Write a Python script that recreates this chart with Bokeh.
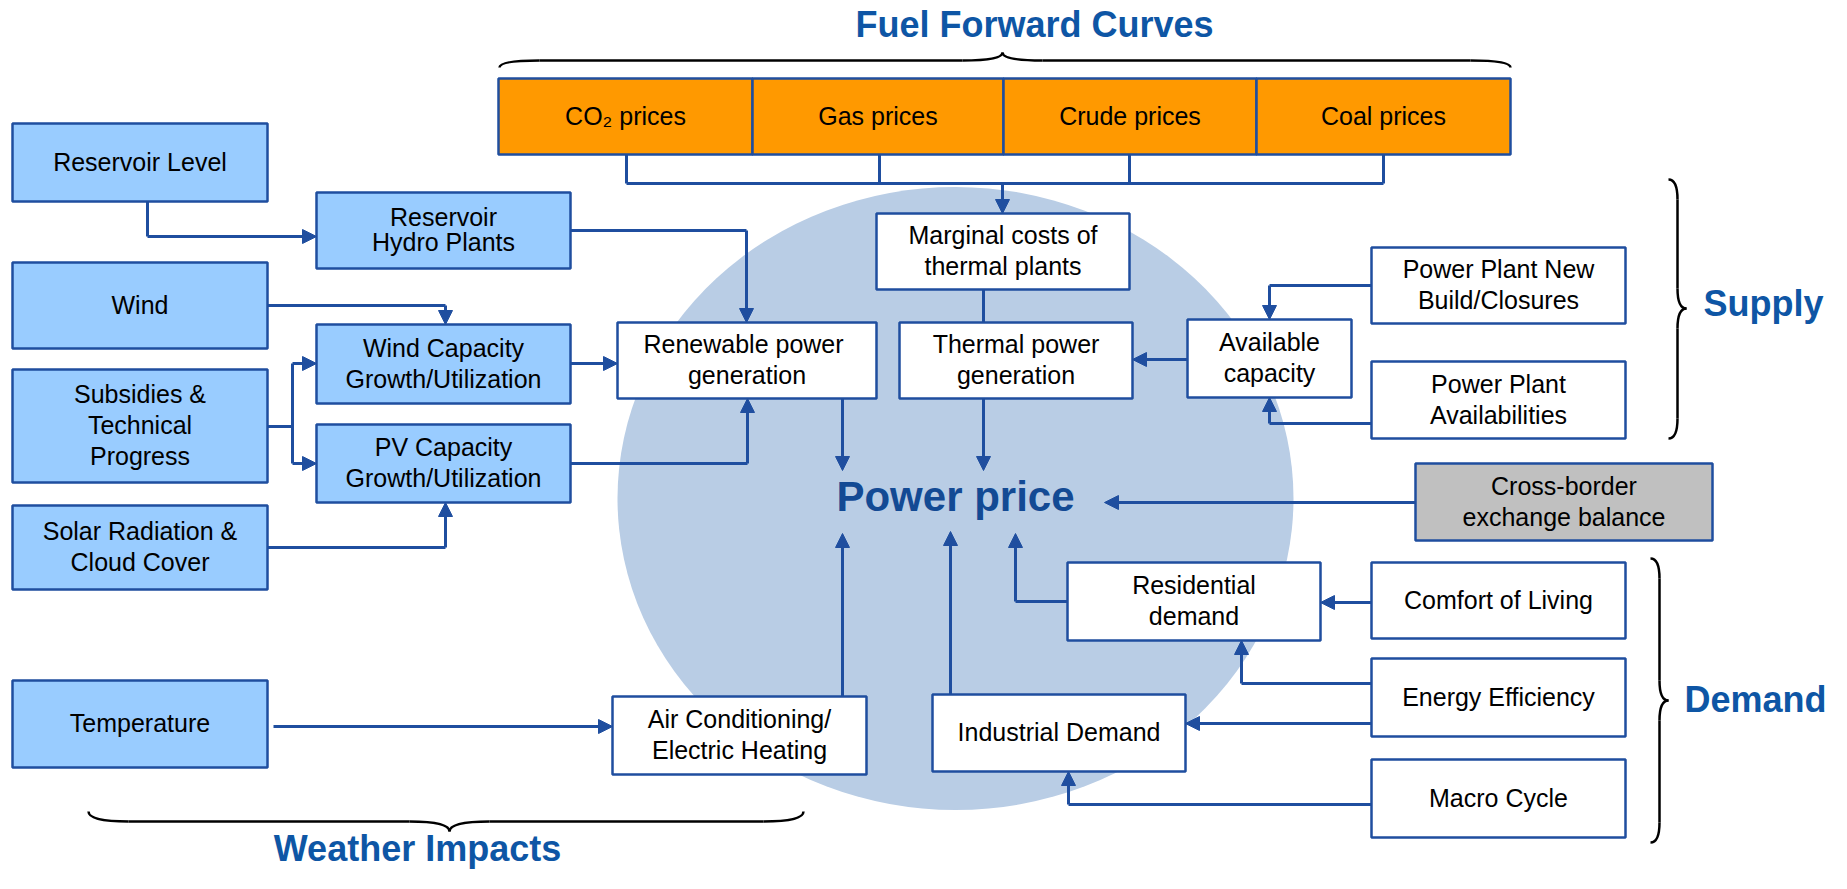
from bokeh.plotting import figure
from bokeh.models import Range1d, Arrow, NormalHead
from bokeh.core.properties import value
from bokeh.embed import file_html
from bokeh.resources import INLINE

# ---------------- data ----------------
box_labels = [
    "Reservoir Level", "Wind", "Subsidies &\nTechnical\nProgress",
    "Solar Radiation &\nCloud Cover", "Temperature",
    "Reservoir\nHydro Plants", "Wind Capacity\nGrowth/Utilization",
    "PV Capacity\nGrowth/Utilization",
    "Renewable  power\ngeneration", "Marginal costs of\nthermal plants",
    "Thermal power\ngeneration", "Available\ncapacity",
    "Power Plant New\nBuild/Closures", "Power Plant\nAvailabilities",
    "Cross-border\nexchange balance",
    "Residential\ndemand", "Comfort of Living", "Energy Efficiency",
    "Industrial Demand", "Macro Cycle", "Air Conditioning/\nElectric Heating",
    "CO\u2082 prices", "Gas prices", "Crude prices", "Coal prices",
]
box_kind = ["blue"] * 8 + ["white"] * 6 + ["gray"] + ["white"] * 6 + ["orange"] * 4
box_left = [12, 12, 12, 12, 12, 316, 316, 316, 617, 876, 899, 1187, 1371, 1371, 1415,
            1067, 1371, 1371, 932, 1371, 612, 498, 752, 1003, 1256]
box_right = [267, 267, 267, 267, 267, 570, 570, 570, 876, 1129, 1132, 1351, 1625, 1625, 1712,
             1320, 1625, 1625, 1185, 1625, 866, 752, 1003, 1256, 1510]
box_top = [123, 262, 369, 505, 680, 192, 324, 424, 322, 213, 322, 319, 247, 361, 463,
           562, 562, 658, 694, 759, 696, 78, 78, 78, 78]
box_bottom = [201, 348, 482, 589, 767, 268, 403, 502, 398, 289, 398, 397, 323, 438, 540,
              640, 638, 736, 771, 837, 774, 154, 154, 154, 154]
line_gap = [31] * 25
line_gap[5] = 25

group_titles = ["Fuel Forward Curves", "Supply", "Demand", "Weather Impacts"]
group_x = [1034, 1703, 1684, 417]
group_y = [38, 317, 713, 862]
group_align = ["center", "left", "left", "center"]

center_label = "Power price"

# connectors: (waypoints, has arrow at end)
connectors = [
    ([(147, 201), (147, 236), (316, 236)], True),
    ([(570, 230), (746, 230), (746, 322)], True),
    ([(267, 305), (445, 305), (445, 324)], True),
    ([(267, 426), (292, 426)], False),
    ([(292, 363), (292, 463)], False),
    ([(292, 363), (316, 363)], True),
    ([(292, 463), (316, 463)], True),
    ([(267, 547), (445, 547), (445, 502)], True),
    ([(570, 363), (617, 363)], True),
    ([(570, 463), (747, 463), (747, 398)], True),
    ([(626, 154), (626, 183)], False),
    ([(879, 154), (879, 183)], False),
    ([(1129, 154), (1129, 183)], False),
    ([(1383, 154), (1383, 183)], False),
    ([(626, 183), (1383, 183)], False),
    ([(1002, 183), (1002, 213)], True),
    ([(983, 289), (983, 322)], False),
    ([(842, 398), (842, 470)], True),
    ([(983, 398), (983, 470)], True),
    ([(1187, 359), (1132, 359)], True),
    ([(1371, 285), (1269, 285), (1269, 319)], True),
    ([(1371, 423), (1269, 423), (1269, 397)], True),
    ([(1415, 502), (1104, 502)], True),
    ([(1067, 601), (1015, 601), (1015, 533)], True),
    ([(950, 694), (950, 531)], True),
    ([(842, 696), (842, 533)], True),
    ([(273, 726), (612, 726)], True),
    ([(1371, 602), (1320, 602)], True),
    ([(1371, 683), (1241, 683), (1241, 640)], True),
    ([(1371, 723), (1185, 723)], True),
    ([(1371, 804), (1068, 804), (1068, 771)], True),
]

# ---------------- styles ----------------
FONT = value("Liberation Sans")
EDGE = "#1F4E9F"
TITLE = "#0E56A5"
FILLS = {"blue": "#99CCFF", "white": "#FFFFFF", "gray": "#C0C0C0", "orange": "#FF9900"}
SHIFT = 0.4  # baseline correction (em) for the svg text placement

p = figure(width=1831, height=873, x_range=Range1d(0, 1831), y_range=Range1d(873, 0),
           output_backend="svg", toolbar_location=None, min_border=0,
           x_axis_location=None, y_axis_location=None)
p.grid.visible = False
p.outline_line_color = None
p.background_fill_color = "white"
p.border_fill_color = "white"

# big circle
p.ellipse(x=[955], y=[498], width=[676], height=[623], fill_color="#B9CDE5", line_color=None)

# connectors
for pts, arrow in connectors:
    xs = [a for a, b in pts]
    ys = [b for a, b in pts]
    if arrow:
        if len(pts) > 2:
            p.line(xs[:-1], ys[:-1], line_color=EDGE, line_width=3)
        p.add_layout(Arrow(end=NormalHead(size=14, fill_color=EDGE, line_color=EDGE, line_width=1),
                           x_start=xs[-2], y_start=ys[-2], x_end=xs[-1], y_end=ys[-1],
                           line_color=EDGE, line_width=3))
    else:
        p.line(xs, ys, line_color=EDGE, line_width=3)

# boxes
p.quad(left=box_left, right=box_right, top=box_top, bottom=box_bottom,
       fill_color=[FILLS[k] for k in box_kind], line_color=EDGE, line_width=2.5)

# box texts
tx, ty, tt = [], [], []
for lab, l, r, t, b, g in zip(box_labels, box_left, box_right, box_top, box_bottom, line_gap):
    lines = lab.split("\n")
    n = len(lines)
    cy = (t + b) / 2
    for i, s in enumerate(lines):
        tx.append((l + r) / 2)
        ty.append(cy + (i - (n - 1) / 2) * g + 9 - SHIFT * 25)
        tt.append(s)
p.text(x=tx, y=ty, text=tt, text_font=FONT, text_align="center",
       text_baseline="alphabetic", text_font_size="25px", text_color="#000000")

# titles
for s, x, y, a in zip(group_titles, group_x, group_y, group_align):
    p.text(x=[x], y=[y - SHIFT * 36], text=[s], text_align=a, text_baseline="alphabetic",
           text_font=FONT, text_font_size="36px", text_font_style="bold", text_color=TITLE)
p.text(x=[955], y=[513 - SHIFT * 42], text=[center_label], text_align="center",
       text_baseline="alphabetic", text_font=FONT, text_font_size="42px",
       text_font_style="bold", text_color="#134A94")

# braces
def hbrace(xa, xb, xm, ye, yl, yt, d):
    q = [((xa, ye), (xa + d, yl), (xa, yl)),
         ((xm - d, yl), (xm, yt), (xm, yl)),
         ((xm, yt), (xm + d, yl), (xm, yl)),
         ((xb - d, yl), (xb, ye), (xb, yl))]
    s = [((xa + d, yl), (xm - d, yl)), ((xm + d, yl), (xb - d, yl))]
    return q, s

def vbrace(ya, yb, ym, xe, xl, xt, d):
    q, s = hbrace(ya, yb, ym, xe, xl, xt, d)
    q = [tuple((b, a) for a, b in item) for item in q]
    s = [tuple((b, a) for a, b in item) for item in s]
    return q, s

braces = [hbrace(499, 1510, 1002, 67, 60, 52, 40),
          hbrace(88, 803, 449, 811, 821, 831, 40),
          vbrace(179, 438, 308, 1668, 1677, 1686, 20),
          vbrace(558, 842, 700, 1650, 1659, 1668, 20)]
for q, s in braces:
    p.quadratic(x0=[a[0][0] for a in q], y0=[a[0][1] for a in q],
                x1=[a[1][0] for a in q], y1=[a[1][1] for a in q],
                cx=[a[2][0] for a in q], cy=[a[2][1] for a in q],
                line_color="#000000", line_width=2.5)
    p.segment(x0=[a[0][0] for a in s], y0=[a[0][1] for a in s],
              x1=[a[1][0] for a in s], y1=[a[1][1] for a in s],
              line_color="#000000", line_width=2.5)

open("out.html", "w").write(file_html(p, INLINE))
